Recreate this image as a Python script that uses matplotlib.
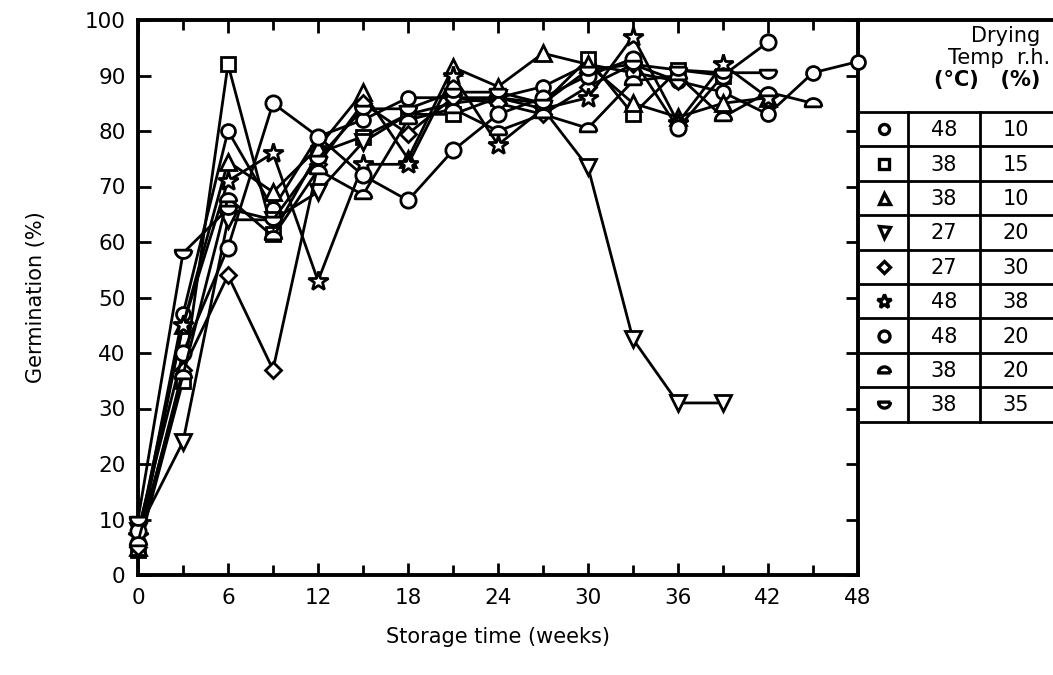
import matplotlib

matplotlib.use("Agg")
import matplotlib.pyplot as plt  # noqa: E402
import numpy as np  # noqa: E402

plt.rcParams["font.family"] = ["DejaVu Sans"]

# storage time (weeks) and germination (%) for each drying condition
weeks = [0, 3, 6, 9, 12, 15, 18, 21, 24, 27, 30, 33, 36, 39, 42, 45, 48]

circle_48_10 = [6, 47, 80, 66, 79, 82, 86, 86, 86, 88, 92, 90.5, 89, 87, 83, 90.5, 92.5]
square_38_15 = [4.5, 35, 92, 61.5, 76, 79, 83, 83, 86, 85, 93, 83, 91, 90]
tri_38_10 = [5, 45, 74.5, 69, 77, 87, 75, 91.5, 88, 94, 92, 85, 82.5, 85, 86]
tridown_27_20 = [8, 24, 64, 64, 69, 78, 83, 85, 86, 84, 73.5, 42.5, 31, 31]
diamond_27_30 = [5, 37, 54, 37, 74, 85, 79.5, 86, 85, 83, 88, 92, 89]
star_48_38 = [7, 45, 71, 76, 53, 74, 74, 90, 77.5, 84, 86, 97, 81.5, 92, 86]
circle_48_20 = [8, 40, 59, 85, 79, 72, 67.5, 76.5, 83, 86, 90, 93, 80.5, 90, 96]
halfup_38_20 = [6, 36, 68, 61, 73, 68.5, 82, 84, 80, 83, 80.5, 89, 90, 82.5, 87, 85]
halfdown_38_35 = [10, 58, 66, 64, 75, 84, 84, 87, 87, 85, 91, 92, 91, 90.5, 90.5]

temps = ["48", "38", "38", "27", "27", "48", "48", "38", "38"]
rhs = ["10", "15", "10", "20", "30", "38", "20", "20", "35"]

# half-circle markers
_t = np.linspace(0, np.pi, 15)
half_up = [(np.cos(a), np.sin(a) - 0.4) for a in _t] + [(1, -0.4)]
half_down = [(np.cos(a), -np.sin(a) + 0.4) for a in _t] + [(1, 0.4)]

series = [
    (circle_48_10, "o", 10),
    (square_38_15, "s", 10),
    (tri_38_10, "^", 11),
    (tridown_27_20, "v", 11),
    (diamond_27_30, "D", 8),
    (star_48_38, "*", 15),
    (circle_48_20, "o", 11),
    (halfup_38_20, half_up, 12),
    (halfdown_38_35, half_down, 12),
]

W, H = 1053, 675
fig = plt.figure(figsize=(W / 100, H / 100), dpi=100)
ax = fig.add_axes([138 / W, 1 - 575 / H, 720 / W, 555 / H])

for vals, mk, ms in series:
    ax.plot(weeks[:len(vals)], vals, color="black", lw=2, marker=mk,
            ms=ms, mfc="white", mec="black", mew=2, clip_on=False, zorder=3)

ax.set_xlim(0, 48)
ax.set_ylim(0, 100)
ax.set_xticks(range(0, 49, 6))
ax.set_xticks(range(0, 49, 3), minor=True)
ax.set_yticks(range(0, 101, 10))
ax.tick_params(which="both", direction="in", top=True, right=True,
               width=2, labelsize=15.5, pad=9)
ax.tick_params(which="major", length=9)
ax.tick_params(which="minor", length=7)
for s in ax.spines.values():
    s.set_linewidth(2.8)
ax.set_xlabel("Storage time (weeks)", fontsize=15, labelpad=14)
ax.set_ylabel("Germination (%)", fontsize=15, labelpad=28)

# legend table drawn in pixel coordinates
tab = fig.add_axes([860 / W, 0, (W - 860) / W, 1])
tab.set_xlim(860, W)
tab.set_ylim(H, 0)
tab.axis("off")
top, head_bot, row_h = 20, 112, 34.4
cols = [860, 908, 980, W]
tab.plot([860, W], [top, top], color="black", lw=2.8)
tab.text(1040, 36, "Drying", ha="right", va="center", fontsize=15)
tab.text(1050, 58, "Temp  r.h.", ha="right", va="center", fontsize=15)
tab.text(1040, 80, "(°C)   (%)", ha="right", va="center", fontsize=15,
         weight="bold")
n = len(series)
for i in range(n + 1):
    tab.plot([860, W], [head_bot + i * row_h] * 2, color="black", lw=2)
for c in cols[1:3]:
    tab.plot([c, c], [head_bot, head_bot + n * row_h], color="black", lw=2)
for i, (vals, mk, ms) in enumerate(series):
    yc = head_bot + (i + 0.5) * row_h
    tab.plot([884], [yc], marker=mk, ms=ms * 0.72, mfc="white", mec="black",
             mew=2.4, ls="none")
    tab.text(944, yc + 1, temps[i], ha="center", va="center", fontsize=15)
    tab.text(1016, yc + 1, rhs[i], ha="center", va="center", fontsize=15)

fig.savefig("out.png", dpi=100)
